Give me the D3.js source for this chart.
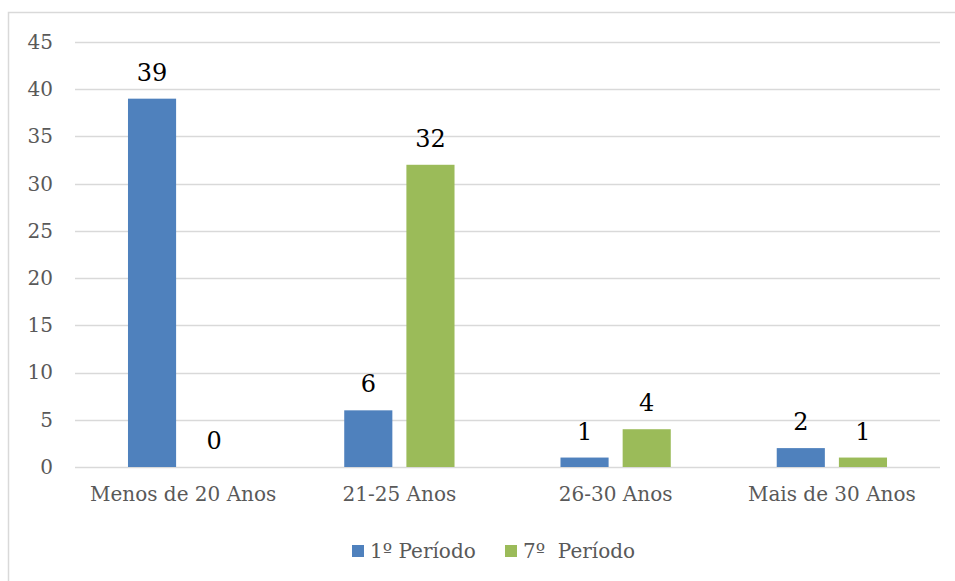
<!DOCTYPE html>
<html>
<head>
<meta charset="utf-8">
<script src="https://cdn.jsdelivr.net/npm/d3@7"></script>
<style>
  body { margin: 0; background: #fff; }
  text { font-family: "DejaVu Serif", serif; }
</style>
</head>
<body>
<div id="chart"></div>
<script>
var categories = ["Menos de 20 Anos", "21-25 Anos", "26-30 Anos", "Mais de 30 Anos"]
var seriesNames = ["1º Período", "7º  Período"]
var periodo1 = [39, 6, 1, 2]
var periodo7 = [0, 32, 4, 1]
var yTicks = [0, 5, 10, 15, 20, 25, 30, 35, 40, 45]
var colors = ["#4F81BD", "#9BBB59"]

var width = 955,
  height = 581,
  margin = { left: 75, right: 15, top: 42, bottom: 114 }

var svg = d3.select("#chart").append("svg")
  .attr("width", width)
  .attr("height", height)

// chart frame
svg.append("rect")
  .attr("x", 8.5)
  .attr("y", 12.5)
  .attr("width", width)
  .attr("height", height)
  .attr("fill", "none")
  .attr("stroke", "#D9D9D9")
  .attr("stroke-width", 1.5)

var x0 = d3.scaleBand()
  .domain(categories)
  .range([margin.left, width - margin.right])
  .paddingInner(0.49)
  .paddingOuter(0.245)

var x1 = d3.scaleBand()
  .domain(seriesNames)
  .range([0, x0.bandwidth()])
  .paddingInner(0.226)

var y = d3.scaleLinear()
  .domain([0, 45])
  .range([height - margin.bottom, margin.top])

// gridlines
svg.append("g")
  .selectAll("line")
  .data(yTicks)
  .enter().append("line")
    .attr("x1", margin.left)
    .attr("x2", width - margin.right)
    .attr("y1", d => Math.round(y(d)) + 0.5)
    .attr("y2", d => Math.round(y(d)) + 0.5)
    .attr("stroke", "#D9D9D9")
    .attr("stroke-width", 1.5)

// y axis labels
var yAxis = d3.axisLeft(y).tickValues(yTicks).tickSize(0).tickPadding(22)
svg.append("g")
  .attr("transform", "translate(" + margin.left + ",0)")
  .call(yAxis)
  .call(g => g.select(".domain").remove())
  .selectAll("text")
    .attr("fill", "#595959")
    .style("font-size", "20px")
    .style("font-family", "DejaVu Serif, serif")

// x axis labels
var xAxis = d3.axisBottom(x0).tickSize(0).tickPadding(20)
svg.append("g")
  .attr("transform", "translate(0," + y(0) + ")")
  .call(xAxis)
  .call(g => g.select(".domain").remove())
  .selectAll("text")
    .attr("fill", "#595959")
    .style("font-size", "20px")
    .style("font-family", "DejaVu Serif, serif")

var rows = categories.map((c, i) => ({ cat: c, values: [periodo1[i], periodo7[i]] }))

var groups = svg.append("g").selectAll("g")
  .data(rows)
  .enter().append("g")
    .attr("transform", d => "translate(" + x0(d.cat) + ",0)")

groups.selectAll("rect")
  .data(d => d.values.map((v, j) => ({ key: seriesNames[j], value: v, j: j })))
  .enter().append("rect")
    .attr("x", d => x1(d.key))
    .attr("y", d => y(d.value))
    .attr("width", x1.bandwidth())
    .attr("height", d => y(0) - y(d.value))
    .attr("fill", d => colors[d.j])

groups.selectAll("text")
  .data(d => d.values.map((v, j) => ({ key: seriesNames[j], value: v })))
  .enter().append("text")
    .attr("x", d => x1(d.key) + x1.bandwidth() / 2)
    .attr("y", d => y(d.value) - 18)
    .attr("text-anchor", "middle")
    .attr("fill", "#000")
    .style("font-size", "24px")
    .text(d => d.value)

// legend
var legendX = [352, 505]
var legend = svg.append("g").selectAll("g")
  .data(seriesNames)
  .enter().append("g")
    .attr("transform", (d, i) => "translate(" + legendX[i] + ",545)")

legend.append("rect")
  .attr("width", 12)
  .attr("height", 12)
  .attr("fill", (d, i) => colors[i])

legend.append("text")
  .attr("x", 18)
  .attr("y", 13)
  .attr("fill", "#595959")
  .style("font-size", "20px")
  .style("white-space", "pre")
  .text(d => d)
</script>
</body>
</html>
